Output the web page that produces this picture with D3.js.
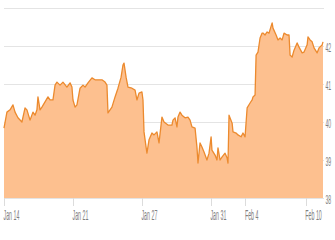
<!DOCTYPE html>
<html>
<head>
  <meta charset="utf-8">
  <script src="https://cdnjs.cloudflare.com/ajax/libs/d3/7.8.5/d3.min.js"></script>
  <style>
    body { margin: 0; background: #fff; }
    text { font-family: "Liberation Sans", sans-serif; fill: #808080; }
  </style>
</head>
<body>
<svg id="chart" width="335" height="240"></svg>

<script>
  // trading-day offset from Jan 14 and price
  var days = [0, 0.17, 0.35, 0.52, 0.64, 0.81, 1.04, 1.22, 1.33, 1.51, 1.68, 1.8, 1.91, 1.97, 2.09, 2.2, 2.38, 2.55, 2.67, 2.84,
    2.96, 3.07, 3.25, 3.42, 3.65, 3.83, 3.94, 4.0, 4.12, 4.23, 4.41, 4.58, 4.7, 4.87, 5.1, 5.28, 5.45, 5.68, 5.86, 5.97,
    6.03, 6.26, 6.44, 6.61, 6.79, 6.9, 6.96, 7.08, 7.19, 7.42, 7.6, 7.71, 7.83, 8.0, 8.06, 8.12, 8.24, 8.29, 8.41, 8.58,
    8.7, 8.87, 8.99, 9.16, 9.28, 9.51, 9.74, 9.8, 9.92, 10.03, 10.09, 10.21, 10.32, 10.5, 10.67, 10.79, 10.9, 11.08, 11.19, 11.25,
    11.37, 11.48, 11.6, 11.77, 11.89, 12.01, 12.06, 12.24, 12.35, 12.41, 12.53, 12.65, 12.82, 12.94, 12.99, 13.05, 13.23, 13.28, 13.46, 13.57,
    13.75, 13.86, 13.98, 14.1, 14.27, 14.39, 14.44, 14.56, 14.62, 14.73, 14.85, 14.97, 15.02, 15.14, 15.26, 15.37, 15.55, 15.6, 15.78, 15.89,
    16.01, 16.13, 16.24, 16.42, 16.53, 16.59, 16.71, 16.82, 17.0, 17.11, 17.29, 17.4, 17.58, 17.63, 17.75, 17.87, 17.98, 18.16, 18.27, 18.45, 18.5];
  var prices = [39.84, 40.26, 40.32, 40.45, 40.26, 40.11, 40.0, 40.37, 40.32, 40.05, 40.26, 40.18, 40.32, 40.66, 40.32, 40.39, 40.53, 40.66, 40.58, 40.58,
    40.97, 41.05, 40.97, 41.05, 40.92, 41.03, 40.92, 40.58, 40.39, 40.45, 40.89, 40.97, 40.92, 41.03, 41.16, 41.11, 41.11, 41.11, 41.05, 40.97,
    40.24, 40.39, 40.66, 40.89, 41.18, 41.5, 41.55, 41.18, 40.92, 40.89, 40.84, 40.58, 40.76, 40.79, 40.58, 39.74, 39.34, 39.18, 39.53, 39.71,
    39.66, 39.74, 39.45, 40.13, 40.0, 39.92, 39.92, 40.05, 40.11, 39.87, 40.13, 40.26, 40.18, 40.11, 40.13, 40.05, 39.87, 39.84, 39.34, 38.92,
    39.45, 39.34, 39.21, 39.0, 39.18, 39.61, 39.26, 39.13, 39.0, 39.32, 39.0, 39.08, 39.18, 39.05, 38.92, 40.18, 39.97, 39.74, 39.71, 39.66,
    39.61, 39.71, 39.61, 40.37, 40.5, 40.58, 40.66, 40.71, 41.76, 41.84, 42.21, 42.34, 42.34, 42.29, 42.37, 42.34, 42.61, 42.47, 42.29, 42.16,
    42.21, 42.16, 42.34, 42.29, 42.29, 41.76, 41.71, 41.89, 42.08, 41.97, 41.82, 41.84, 42.03, 42.24, 42.16, 42.11, 41.95, 41.82, 41.95, 42.03, 42.11];

  var tickDays = [0, 4, 8, 12, 14, 17.5];
  var tickLabels = ['Jan 14', 'Jan 21', 'Jan 27', 'Jan 31', 'Feb 4', 'Feb 10'];
  var priceTicks = [38, 39, 40, 41, 42];

  var data = days.map(function(d, i) { return {t: d, v: prices[i]}; });

  var svg = d3.select('#chart');
  var x = d3.scaleLinear().domain([0, 18.5]).range([4, 323]);
  var y = d3.scaleLinear().domain([38, 43]).range([198, 8]);

  // grid
  svg.append('g').selectAll('line')
    .data(priceTicks.concat([43]))
    .enter().append('line')
    .attr('x1', 4).attr('x2', 324)
    .attr('y1', function(d) { return Math.round(y(d)) + 0.5; })
    .attr('y2', function(d) { return Math.round(y(d)) + 0.5; })
    .attr('stroke', '#e4e4e4').attr('stroke-width', 1.2);

  var area = d3.area()
    .x(function(d) { return x(d.t); })
    .y0(y(38))
    .y1(function(d) { return y(d.v); });

  var line = d3.line()
    .x(function(d) { return x(d.t); })
    .y(function(d) { return y(d.v); });

  svg.append('path').datum(data)
    .attr('d', area)
    .attr('fill', '#fdc08f');

  svg.append('path').datum(data)
    .attr('d', line)
    .attr('fill', 'none')
    .attr('stroke', '#ec8a2e')
    .attr('stroke-width', 1.3)
    .attr('stroke-linejoin', 'round');

  // x axis ticks and labels (narrow, condensed text)
  var xt = svg.append('g').selectAll('g')
    .data(tickDays)
    .enter().append('g');
  xt.append('line')
    .attr('x1', function(d) { return Math.round(x(d)) + 0.5; })
    .attr('x2', function(d) { return Math.round(x(d)) + 0.5; })
    .attr('y1', 198).attr('y2', 206)
    .attr('stroke', '#dcdcdc');
  xt.append('text')
    .attr('transform', function(d) { return 'translate(' + (x(d) - 0.5) + ',220) scale(0.38,1)'; })
    .style('font-size', '14px')
    .text(function(d, i) { return tickLabels[i]; });

  // right axis labels
  svg.append('g').selectAll('text')
    .data(priceTicks)
    .enter().append('text')
    .attr('transform', function(d) { return 'translate(325.5,' + (y(d) + 6) + ') scale(0.43,1)'; })
    .style('font-size', '12px')
    .text(function(d) { return d; });
</script>
</body>
</html>
